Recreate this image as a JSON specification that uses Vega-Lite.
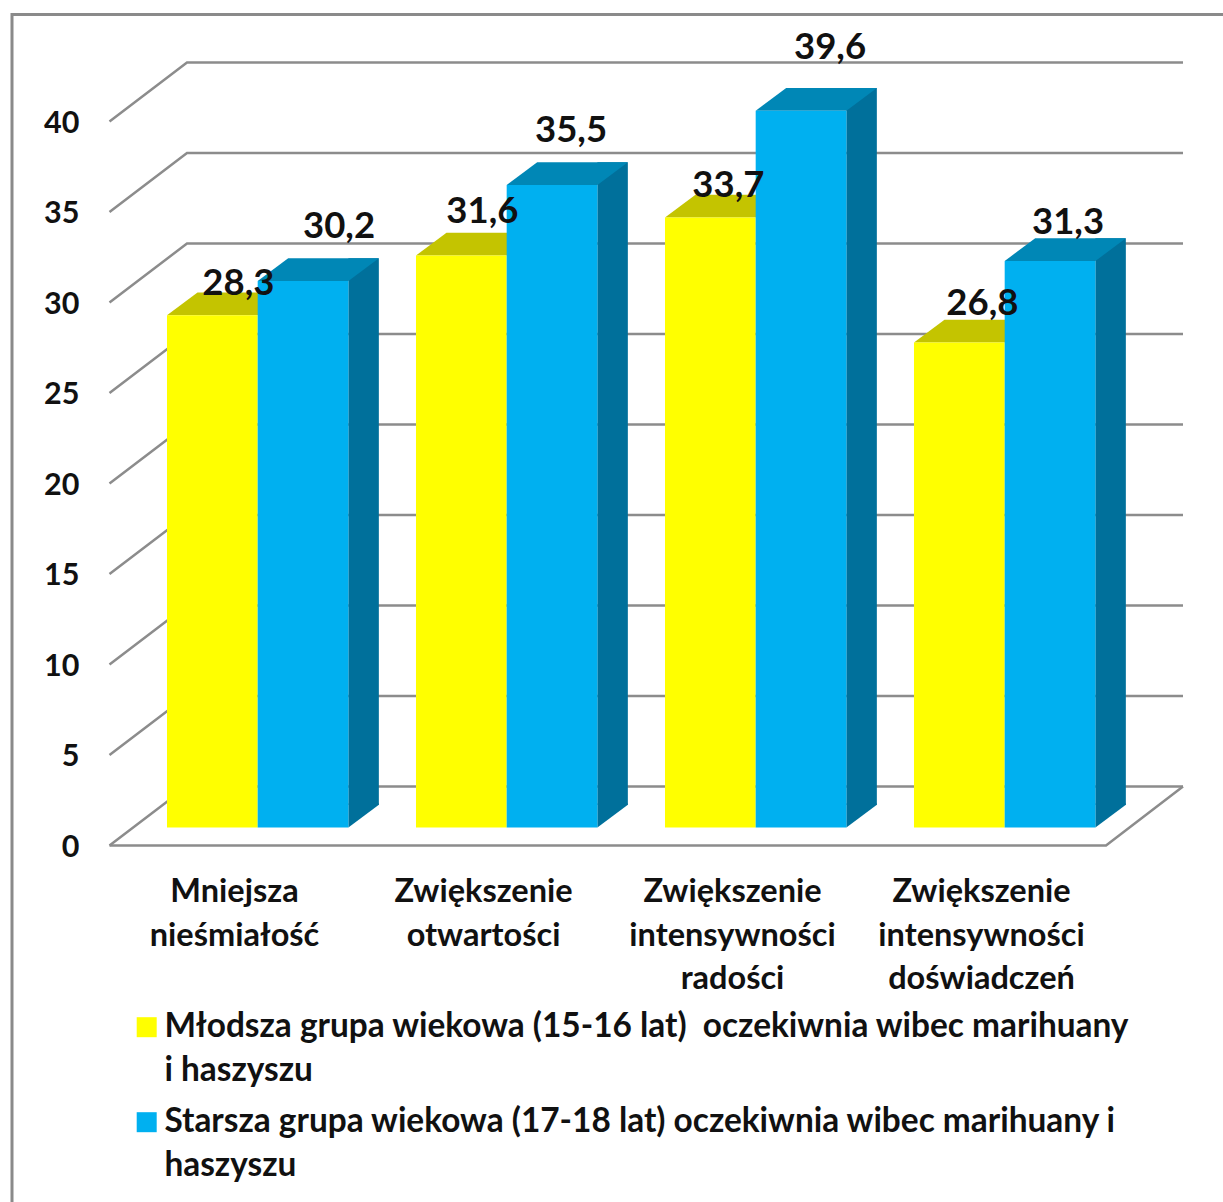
{
"$schema":"https://vega.github.io/schema/vega-lite/v6.json",
"autosize":{"type":"none"},
"padding":{"left":110,"top":121.5,"right":117,"bottom":356.5},
"width":996,"height":724,
"background":"white",
"config":{"view":{"stroke":null},"font":"Lato"},
"datasets":{
"bars":[
{"cat":"Mniejsza nieśmiałość","grupa":"Młodsza grupa wiekowa (15-16 lat)\u00a0 oczekiwnia wibec marihuany\ni haszyszu","v":28.3,"s":"A","etykieta":"28,3"},
{"cat":"Mniejsza nieśmiałość","grupa":"Starsza grupa wiekowa (17-18 lat) oczekiwnia wibec marihuany i\nhaszyszu","v":30.2,"s":"B","etykieta":"30,2"},
{"cat":"Zwiększenie otwartości","grupa":"Młodsza grupa wiekowa (15-16 lat)\u00a0 oczekiwnia wibec marihuany\ni haszyszu","v":31.6,"s":"A","etykieta":"31,6"},
{"cat":"Zwiększenie otwartości","grupa":"Starsza grupa wiekowa (17-18 lat) oczekiwnia wibec marihuany i\nhaszyszu","v":35.5,"s":"B","etykieta":"35,5"},
{"cat":"Zwiększenie intensywności radości","grupa":"Młodsza grupa wiekowa (15-16 lat)\u00a0 oczekiwnia wibec marihuany\ni haszyszu","v":33.7,"s":"A","etykieta":"33,7"},
{"cat":"Zwiększenie intensywności radości","grupa":"Starsza grupa wiekowa (17-18 lat) oczekiwnia wibec marihuany i\nhaszyszu","v":39.6,"s":"B","etykieta":"39,6"},
{"cat":"Zwiększenie intensywności doświadczeń","grupa":"Młodsza grupa wiekowa (15-16 lat)\u00a0 oczekiwnia wibec marihuany\ni haszyszu","v":26.8,"s":"A","etykieta":"26,8"},
{"cat":"Zwiększenie intensywności doświadczeń","grupa":"Starsza grupa wiekowa (17-18 lat) oczekiwnia wibec marihuany i\nhaszyszu","v":31.3,"s":"B","etykieta":"31,3"}
],
"ticks":[{"t":0},{"t":5},{"t":10},{"t":15},{"t":20},{"t":25},{"t":30},{"t":35},{"t":40}]
},
"layer":[
{"data":{"name":"ticks"},"transform":[{"filter":"datum.t==0"}],"mark":{"type":"point","shape":"M-596 720L-596 -469L630 -469","size":4,"filled":false,"stroke":"#8a8a8a","strokeWidth":3,"opacity":1},"encoding":{}},
{"data":{"name":"ticks"},"mark":{"type":"point","shape":"M-498.5 0L-421 -59L575 -59","size":4,"filled":false,"stroke":"#8c8c8c","strokeWidth":2.5,"opacity":1},
 "encoding":{"y":{"field":"t","type":"quantitative","scale":{"domain":[0,40],"nice":false},
 "axis":{"title":null,"values":[0,5,10,15,20,25,30,35,40],"domain":false,"ticks":false,"grid":false,"labelPadding":31,"labelOffset":1.5,"labelFont":"Lato","labelFontWeight":"bold","labelFontSize":30.5,"labelColor":"#111111"}}}},
{"data":{"name":"ticks"},"transform":[{"filter":"datum.t==0"}],"mark":{"type":"point","shape":"M-498.5 0L498 0L575 -59","size":4,"filled":false,"stroke":"#8c8c8c","strokeWidth":2.5,"opacity":1},
 "encoding":{"y":{"field":"t","type":"quantitative","scale":{"domain":[0,40],"nice":false}}}},
{"data":{"name":"bars"},
 "encoding":{
  "x":{"field":"cat","type":"nominal","sort":null,"scale":{"paddingInner":0,"paddingOuter":0},
   "axis":{"title":null,"labelAngle":0,"domain":false,"ticks":false,"labelPadding":46,"labelFont":"Lato","labelFontWeight":"bold","labelFontSize":32.5,"labelColor":"#111111","labelLineHeight":43.5,"labelBaseline":"middle","labelExpr":"split(datum.label,' ')","labelLimit":0}},
  "xOffset":{"field":"s","scale":{"paddingInner":0,"paddingOuter":0.3727,"align":0.843}},
  "y":{"field":"v","type":"quantitative","scale":{"domain":[0,40],"nice":false}}
 },
 "layer":[
 {"transform":[{"filter":"datum.s=='B'"}],"mark":{"type":"bar","width":30.5,"color":"#00709b","yOffset":-40.7,"y2Offset":-40.7},
  "encoding":{"xOffset":{"value":253.6},"y2":{"datum":0}}},
 {"transform":[{"filter":"datum.s=='B'"}],"mark":{"type":"point","shape":"M45.35 -18L75.85 -40.7L75.85 -42L45.35 -42Z","size":4,"filled":true,"color":"#00709b","opacity":1},
  "encoding":{"y":{"datum":0,"scale":{"domain":[0,40],"nice":false}}}},
 {"mark":{"type":"point","shape":"M-45.35 -18L45.35 -18L75.85 -40.7L-14.85 -40.7Z","size":4,"filled":true,"opacity":1},
  "encoding":{"color":{"field":"s","type":"nominal","legend":null,"scale":{"domain":["A","B"],"range":["#c4c400","#0087b6"]}}}},
 {"mark":{"type":"bar","yOffset":-18,"y2Offset":-18,"width":90.7},
  "encoding":{"y2":{"datum":0},
  "fill":{"field":"grupa","type":"nominal","sort":null,"scale":{"range":["#ffff00","#00b0f0"]},
  "legend":{"title":null,"orient":"none","legendX":20,"legendY":889,"symbolType":"square","symbolSize":400,"symbolStrokeWidth":0,"labelFont":"Lato","labelFontWeight":"bold","labelFontSize":33.4,"labelColor":"#111111","labelLimit":0,"labelOffset":1,"rowPadding":17,"labelExpr":"split(datum.label,'\\n')","encoding":{"labels":{"lineHeight":{"value":43.5}}}}}}},
 {"encoding":{"text":{"field":"etykieta"}},
  "layer":[
  {"transform":[{"filter":"datum.etykieta=='28,3'"}],"mark":{"type":"text","font":"Lato","fontWeight":"bold","fontSize":36.5,"color":"#111111","baseline":"middle","dx":26,"dy":-49}},
  {"transform":[{"filter":"datum.etykieta=='30,2'"}],"mark":{"type":"text","font":"Lato","fontWeight":"bold","fontSize":36.5,"color":"#111111","baseline":"middle","dx":36,"dy":-72}},
  {"transform":[{"filter":"datum.etykieta=='31,6'"}],"mark":{"type":"text","font":"Lato","fontWeight":"bold","fontSize":36.5,"color":"#111111","baseline":"middle","dx":21,"dy":-61.5}},
  {"transform":[{"filter":"datum.etykieta=='35,5'"}],"mark":{"type":"text","font":"Lato","fontWeight":"bold","fontSize":36.5,"color":"#111111","baseline":"middle","dx":19,"dy":-72}},
  {"transform":[{"filter":"datum.etykieta=='33,7'"}],"mark":{"type":"text","font":"Lato","fontWeight":"bold","fontSize":36.5,"color":"#111111","baseline":"middle","dx":18,"dy":-49.5}},
  {"transform":[{"filter":"datum.etykieta=='39,6'"}],"mark":{"type":"text","font":"Lato","fontWeight":"bold","fontSize":36.5,"color":"#111111","baseline":"middle","dx":29,"dy":-81}},
  {"transform":[{"filter":"datum.etykieta=='26,8'"}],"mark":{"type":"text","font":"Lato","fontWeight":"bold","fontSize":36.5,"color":"#111111","baseline":"middle","dx":23,"dy":-56}},
  {"transform":[{"filter":"datum.etykieta=='31,3'"}],"mark":{"type":"text","font":"Lato","fontWeight":"bold","fontSize":36.5,"color":"#111111","baseline":"middle","dx":18,"dy":-56}}
  ]}
 ]}
]
}
